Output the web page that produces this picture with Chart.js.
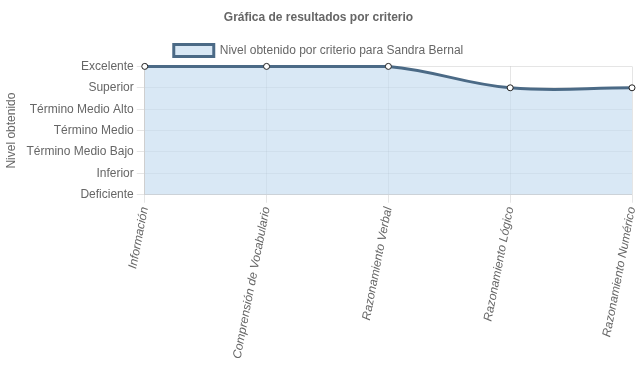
<!DOCTYPE html>
<html>
<head>
<meta charset="utf-8">
<script src="https://cdn.jsdelivr.net/npm/chart.js@4/dist/chart.umd.min.js"></script>
<style>
    html, body { margin: 0; padding: 0; background: #fff; }
    #wrap { width: 637px; height: 389px; }
</style>
</head>
<body>
<div id="wrap"><canvas id="chart"></canvas></div>
<script>
const categories = ['Información', 'Comprensión de Vocabulario', 'Razonamiento Verbal', 'Razonamiento Lógico', 'Razonamiento Numérico'];
const levelLabels = ['Deficiente', 'Inferior', 'Término Medio Bajo', 'Término Medio', 'Término Medio Alto', 'Superior', 'Excelente'];
const levels = [6, 6, 6, 5, 5];

Chart.defaults.font.family = "'Liberation Sans', Arial, Helvetica, sans-serif";
Chart.defaults.font.size = 12;
Chart.defaults.color = '#666';

const grid = { color: 'rgba(0, 0, 0, 0.1)', tickLength: 8 };

new Chart(document.getElementById('chart'), {
    type: 'line',
    data: {
        labels: categories,
        datasets: [{
            label: 'Nivel obtenido por criterio para Sandra Bernal',
            data: levels,
            fill: 'start',
            clip: false,
            borderColor: '#4b6a86',
            backgroundColor: 'rgba(196, 219, 239, 0.65)',
            borderWidth: 3,
            tension: 0.4,
            pointRadius: 3,
            pointBorderWidth: 1,
            pointBorderColor: '#222',
            pointBackgroundColor: '#fff'
        }]
    },
    options: {
        responsive: true,
        maintainAspectRatio: false,
        animation: false,
        layout: { padding: { left: 0, right: 0, top: 0, bottom: 26 } },
        plugins: {
            title: {
                display: true,
                text: 'Gráfica de resultados por criterio',
                font: { weight: 'bold', size: 12 },
                padding: { top: 10, bottom: 10 }
            },
            legend: {
                labels: { boxWidth: 40, boxHeight: 12, padding: 10 }
            },
            tooltip: { enabled: false }
        },
        scales: {
            x: {
                grid,
                ticks: {
                    minRotation: 79,
                    maxRotation: 79,
                    font: { style: 'italic' }
                },
                // the rotated last label would otherwise push the plot away from the right edge
                afterFit: scale => { scale.paddingRight = 4; }
            },
            y: {
                min: 0,
                max: 6,
                grid,
                title: { display: true, text: 'Nivel obtenido', padding: { top: 4, bottom: 5 } },
                ticks: {
                    stepSize: 1,
                    callback: v => levelLabels[v]
                }
            }
        }
    }
});
</script>
</body>
</html>
